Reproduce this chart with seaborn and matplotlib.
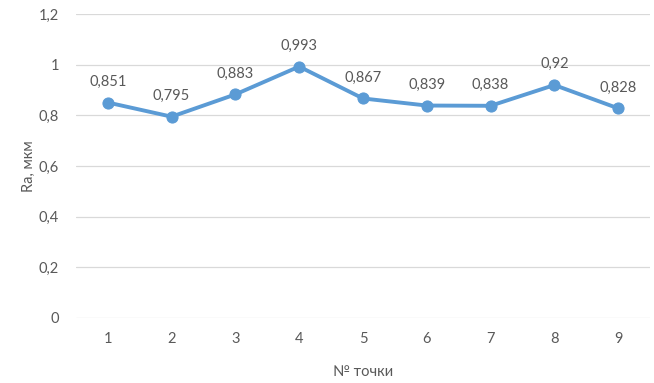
import matplotlib
matplotlib.use("Agg")
import matplotlib.pyplot as plt
import seaborn as sns
import pandas as pd

# data
points = [1, 2, 3, 4, 5, 6, 7, 8, 9]
ra = [0.851, 0.795, 0.883, 0.993, 0.867, 0.839, 0.838, 0.92, 0.828]
labels = ["0,851", "0,795", "0,883", "0,993", "0,867", "0,839", "0,838", "0,92", "0,828"]
yticks = [0, 0.2, 0.4, 0.6, 0.8, 1.0, 1.2]
ytick_labels = ["0", "0,2", "0,4", "0,6", "0,8", "1", "1,2"]

sns.set_style("white")
plt.rcParams['font.family'] = ['Lato', 'DejaVu Sans']

df = pd.DataFrame({'point': points, 'ra': ra})
grey = '#595959'
blue = '#5B9BD5'
fs = 10.5

fig = plt.figure(figsize=(6.54, 3.83), dpi=100)
ax = fig.add_axes([0.116, 0.170, 0.878, 0.793])

sns.lineplot(data=df, x='point', y='ra', ax=ax, color=blue, linewidth=2.8,
             marker='o', markersize=8, markeredgecolor=blue, zorder=3)

for x, y, t in zip(points, ra, labels):
    ax.annotate(t, (x, y), xytext=(0, 10), textcoords='offset points',
                ha='center', va='bottom', fontsize=fs, color=grey)

ax.set_xlim(0.5, 9.5)
ax.set_ylim(0, 1.2)
ax.set_xticks(points)
ax.set_xticklabels([str(p) for p in points])
ax.set_yticks(yticks)
ax.set_yticklabels(ytick_labels)
ax.tick_params(axis='both', length=0, labelsize=fs, colors=grey)
ax.tick_params(axis='x', pad=10)
ax.tick_params(axis='y', pad=12)
ax.grid(axis='y', color='#D9D9D9', linewidth=0.9)
ax.set_axisbelow(True)
for s in ax.spines.values():
    s.set_visible(False)

ax.set_xlabel('№ точки', fontsize=fs, color=grey, labelpad=14)
ax.set_ylabel('Ra, мкм', fontsize=fs, color=grey, labelpad=2)

plt.savefig('out.png', dpi=100)
